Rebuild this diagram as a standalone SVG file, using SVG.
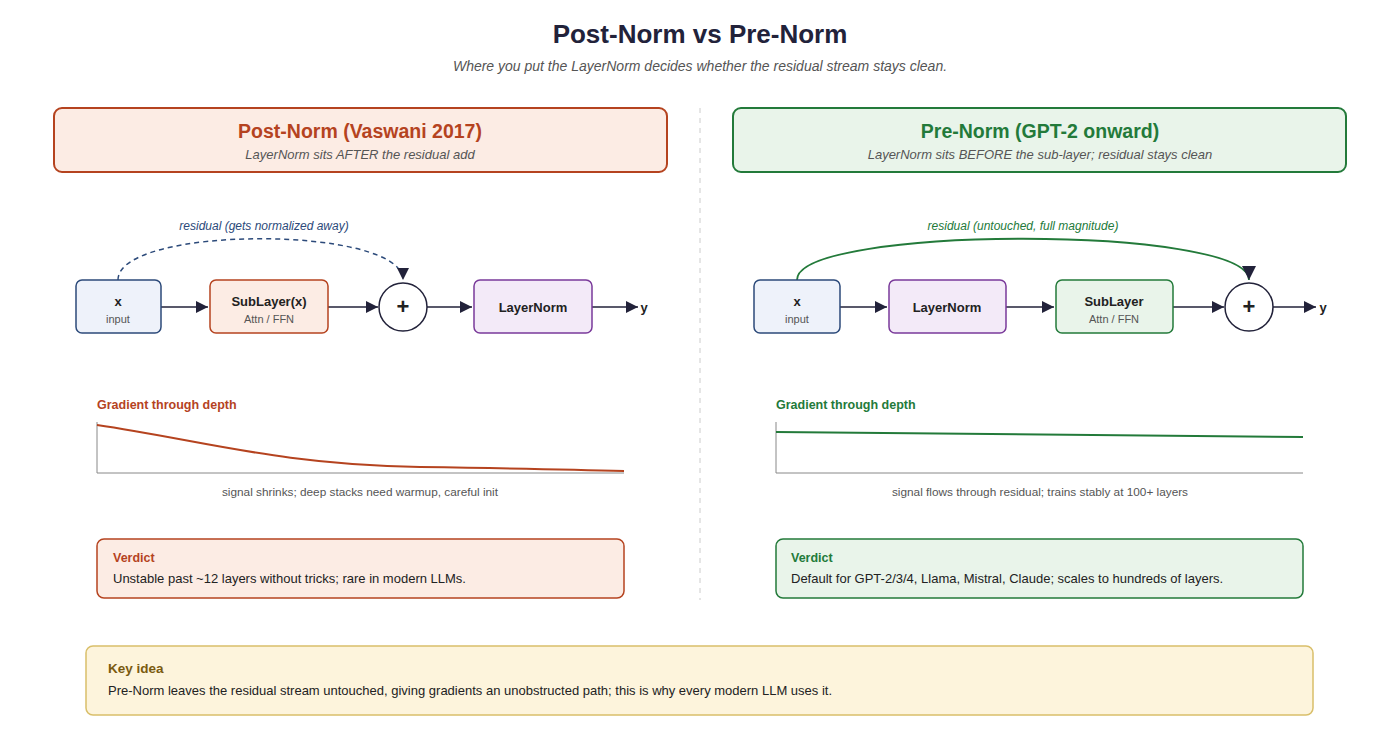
<svg xmlns="http://www.w3.org/2000/svg" width="1400" height="754" viewBox="0 0 1400 754">
<style>
text{font-family:"Liberation Sans",Arial,sans-serif}
.t{font-weight:bold;font-size:13px;fill:#222;text-anchor:middle}
.s{font-size:11px;fill:#555;text-anchor:middle}
.p{font-weight:bold;font-size:22px;fill:#222;text-anchor:middle}
.e{stroke:#22223a;stroke-width:1.5;fill:none}
</style>
<defs>
<marker id="a" viewBox="0 0 10 10" refX="10" refY="5" markerWidth="8" markerHeight="8" orient="auto-start-reverse"><path d="M0,0L10,5L0,10z" fill="#22223a"/></marker>
</defs>
<rect width="1400" height="754" fill="#fff"/>
<text x="700" y="43" font-size="26" font-weight="bold" fill="#22223a" text-anchor="middle">Post-Norm vs Pre-Norm</text>
<text x="700" y="71" font-size="14" font-style="italic" fill="#555" text-anchor="middle">Where you put the LayerNorm decides whether the residual stream stays clean.</text>
<line x1="700" y1="108" x2="700" y2="600" stroke="#ccc" stroke-dasharray="5,5"/>
<g id="post-header"><rect x="54" y="108" width="613" height="64" rx="8" fill="#fcece4" stroke="#b5431f" stroke-width="2"/>
<text x="360" y="138" font-size="19.5" font-weight="bold" fill="#b5431f" text-anchor="middle">Post-Norm (Vaswani 2017)</text>
<text x="360" y="159" font-size="13" font-style="italic" fill="#555" text-anchor="middle">LayerNorm sits AFTER the residual add</text></g>
<g id="pre-header"><rect x="733" y="108" width="613" height="64" rx="8" fill="#e9f4ea" stroke="#237a3a" stroke-width="2"/>
<text x="1040" y="138" font-size="19.5" font-weight="bold" fill="#237a3a" text-anchor="middle">Pre-Norm (GPT-2 onward)</text>
<text x="1040" y="159" font-size="13" font-style="italic" fill="#555" text-anchor="middle">LayerNorm sits BEFORE the sub-layer; residual stays clean</text></g>

<g id="connectors">
<path class="e" d="M161,307H208" marker-end="url(#a)"/>
<path class="e" d="M328,307H378" marker-end="url(#a)"/>
<path class="e" d="M427,307H472" marker-end="url(#a)"/>
<path class="e" d="M592,307H638" marker-end="url(#a)"/>
<path d="M118,280C118,225 403,225 403,280" fill="none" stroke="#2c4a7a" stroke-width="1.5" stroke-dasharray="5,4" marker-end="url(#a)"/>
<text x="264" y="230" font-size="12" font-style="italic" fill="#2c4a7a" text-anchor="middle">residual (gets normalized away)</text>
<path class="e" d="M840,307H887" marker-end="url(#a)"/>
<path class="e" d="M1006,307H1054" marker-end="url(#a)"/>
<path class="e" d="M1173,307H1224" marker-end="url(#a)"/>
<path class="e" d="M1273,307H1316" marker-end="url(#a)"/>
<path d="M797,280C797,225 1249,225 1249,280" fill="none" stroke="#237a3a" stroke-width="1.8" marker-end="url(#a)"/>
<text x="1023" y="230" font-size="12" font-style="italic" fill="#237a3a" text-anchor="middle">residual (untouched, full magnitude)</text>
</g>

<g id="l-x"><rect x="76" y="280" width="85" height="53" rx="6" fill="#eef2fa" stroke="#2c4a7a" stroke-width="1.5"/><text class="t" x="118" y="306">x</text><text class="s" x="118" y="323">input</text></g>
<g id="l-sub"><rect x="210" y="280" width="118" height="53" rx="6" fill="#fcece4" stroke="#b5431f" stroke-width="1.5"/><text class="t" x="269" y="306">SubLayer(x)</text><text class="s" x="269" y="323">Attn / FFN</text></g>
<g id="l-add"><circle cx="403" cy="307" r="24" fill="#fff" stroke="#22223a" stroke-width="1.5"/><text class="p" x="403" y="314">+</text></g>
<g id="l-ln"><rect x="474" y="280" width="118" height="53" rx="6" fill="#f3eaf8" stroke="#7a3a9a" stroke-width="1.5"/><text class="t" x="533" y="312">LayerNorm</text></g>
<text class="t" x="644" y="312">y</text>

<g id="r-x"><rect x="754" y="280" width="86" height="53" rx="6" fill="#eef2fa" stroke="#2c4a7a" stroke-width="1.5"/><text class="t" x="797" y="306">x</text><text class="s" x="797" y="323">input</text></g>
<g id="r-ln"><rect x="889" y="280" width="117" height="53" rx="6" fill="#f3eaf8" stroke="#7a3a9a" stroke-width="1.5"/><text class="t" x="947" y="312">LayerNorm</text></g>
<g id="r-sub"><rect x="1056" y="280" width="117" height="53" rx="6" fill="#e9f4ea" stroke="#237a3a" stroke-width="1.5"/><text class="t" x="1114" y="306">SubLayer</text><text class="s" x="1114" y="323">Attn / FFN</text></g>
<g id="r-add"><circle cx="1249" cy="307" r="24" fill="#fff" stroke="#22223a" stroke-width="1.5"/><text class="p" x="1249" y="314">+</text></g>
<text class="t" x="1323" y="312">y</text>

<g id="l-grad">
<text x="97" y="409" font-size="12.5" font-weight="bold" fill="#b5431f">Gradient through depth</text>
<path d="M97,422V473H624" fill="none" stroke="#888"/>
<path d="M97,425C200,440 280,465 420,467S560,469 624,471" fill="none" stroke="#b5431f" stroke-width="2"/>
<text x="360" y="496" font-size="11.8" fill="#555" text-anchor="middle">signal shrinks; deep stacks need warmup, careful init</text>
</g>
<g id="r-grad">
<text x="776" y="409" font-size="12.5" font-weight="bold" fill="#237a3a">Gradient through depth</text>
<path d="M776,422V473H1303" fill="none" stroke="#888"/>
<path d="M776,432L1303,437" fill="none" stroke="#237a3a" stroke-width="2"/>
<text x="1040" y="496" font-size="11.8" fill="#555" text-anchor="middle">signal flows through residual; trains stably at 100+ layers</text>
</g>

<g id="l-verdict"><rect x="97" y="539" width="527" height="59" rx="7" fill="#fcece4" stroke="#b5431f" stroke-width="1.5"/>
<text x="113" y="562" font-size="12.5" font-weight="bold" fill="#b5431f">Verdict</text>
<text x="113" y="583" font-size="13" fill="#222">Unstable past ~12 layers without tricks; rare in modern LLMs.</text></g>
<g id="r-verdict"><rect x="776" y="539" width="527" height="59" rx="7" fill="#e9f4ea" stroke="#237a3a" stroke-width="1.5"/>
<text x="791" y="562" font-size="12.5" font-weight="bold" fill="#237a3a">Verdict</text>
<text x="791" y="583" font-size="13" fill="#222">Default for GPT-2/3/4, Llama, Mistral, Claude; scales to hundreds of layers.</text></g>

<g id="key"><rect x="86" y="646" width="1227" height="69" rx="7" fill="#fdf4dc" stroke="#d9bf6a" stroke-width="1.5"/>
<text x="108" y="673" font-size="13.5" font-weight="bold" fill="#7a5a10">Key idea</text>
<text x="108" y="695" font-size="13" fill="#222">Pre-Norm leaves the residual stream untouched, giving gradients an unobstructed path; this is why every modern LLM uses it.</text></g>
</svg>
